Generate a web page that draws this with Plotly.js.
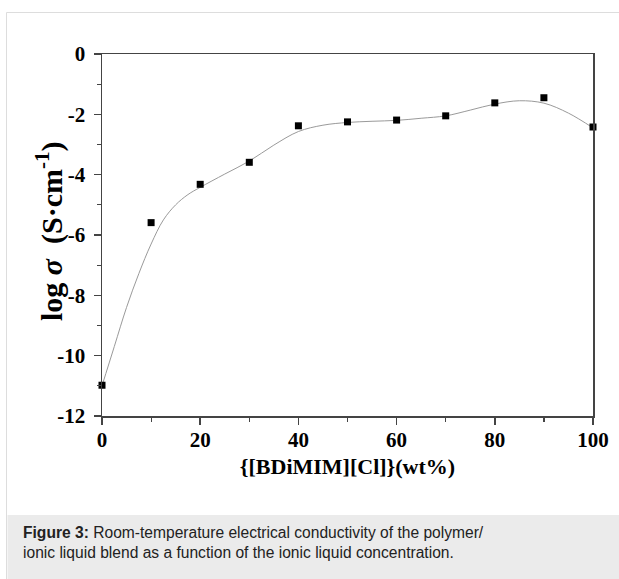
<!DOCTYPE html>
<html>
<head>
<meta charset="utf-8">
<script src="https://cdn.plot.ly/plotly-3.0.1.min.js"></script>
<style>
  html, body { margin: 0; padding: 0; background: #ffffff; }
  #chart { width: 619px; height: 579px; }
</style>
</head>
<body>
<div id="chart"></div>
<script>
// Measured data (ionic liquid wt% vs log conductivity)
const ilContent = [0, 10, 20, 30, 40, 50, 60, 70, 80, 90, 100];
const logSigma = [-10.98, -5.59, -4.32, -3.59, -2.38, -2.25, -2.19, -2.05, -1.62, -1.45, -2.42];

// Smooth guide curve
const curveX = [0, 2.5, 5, 7.5, 10, 12.5, 15, 17.5, 20, 25, 30, 35, 40, 45, 50, 55, 60, 65, 70, 75, 80, 85, 90, 95, 100];
const curveY = [-11.0, -9.7, -8.4, -7.28, -6.3, -5.5, -5.0, -4.66, -4.42, -3.98, -3.55, -3.02, -2.57, -2.36, -2.27, -2.23, -2.2, -2.13, -2.05, -1.86, -1.66, -1.55, -1.63, -1.96, -2.45];

// Tick labels
const xTickVals = [0, 20, 40, 60, 80, 100];
const xTickText = ['0', '20', '40', '60', '80', '100'];
const yTickVals = [0, -2, -4, -6, -8, -10, -12];
const yTickText = ['0', '-2', '-4', '-6', '-8', '-10', '-12'];

const xTitle = '{[BDiMIM][Cl]}(wt%)';
const yTitle = 'log <i>σ</i>  (S·cm<sup>-1</sup>)';
const caption = '<b>Figure 3:</b> Room-temperature electrical conductivity of the polymer/<br>ionic liquid blend as a function of the ionic liquid concentration.';

// pixel helpers for placing decorations outside the plot area
const M = { l: 102, r: 26, t: 54, b: 163 };
const W = 619, H = 579;
const pw = W - M.l - M.r, ph = H - M.t - M.b;
const px = (x) => (x - M.l) / pw;
const py = (y) => (H - M.b - y) / ph;

const serifBold = { family: 'Liberation Serif, Times New Roman, serif', weight: 'bold', color: '#000000' };

const traces = [
  {
    x: curveX, y: curveY, type: 'scatter', mode: 'lines',
    line: { color: '#9a9a9a', width: 1, shape: 'spline', smoothing: 1 },
    hoverinfo: 'skip', showlegend: false, cliponaxis: false
  },
  {
    x: ilContent, y: logSigma, type: 'scatter', mode: 'markers',
    marker: { symbol: 'square', size: 7, color: '#000000' },
    showlegend: false, cliponaxis: false
  }
];

const axisCommon = {
  showgrid: false, zeroline: false,
  showline: true, linecolor: '#444444', linewidth: 1.5, mirror: true,
  ticks: 'outside', ticklen: 7, tickwidth: 1.5, tickcolor: '#444444',
  tickmode: 'array',
  tickfont: Object.assign({ size: 21 }, serifBold)
};

const layout = {
  width: W, height: H,
  margin: { l: M.l, r: M.r, t: M.t, b: M.b, pad: 0 },
  paper_bgcolor: '#ffffff', plot_bgcolor: '#ffffff',
  showlegend: false,
  xaxis: Object.assign({}, axisCommon, {
    range: [0, 100],
    tickvals: xTickVals, ticktext: xTickText,
    ticklabelstandoff: -3,
    minor: { tickmode: 'linear', tick0: 0, dtick: 10, ticks: 'outside', ticklen: 4, tickwidth: 1.2, tickcolor: '#444444' },
    title: { text: xTitle, font: Object.assign({ size: 22 }, serifBold), standoff: 8 },
    automargin: false
  }),
  yaxis: Object.assign({}, axisCommon, {
    range: [-12, 0],
    tickvals: yTickVals, ticktext: yTickText,
    ticklabelstandoff: 4,
    minor: { tickmode: 'linear', tick0: 0, dtick: 1, ticks: 'outside', ticklen: 4, tickwidth: 1.2, tickcolor: '#444444' },
    automargin: false
  }),
  shapes: [
    { type: 'rect', xref: 'paper', yref: 'paper', layer: 'below',
      x0: px(6.5), x1: px(660), y0: py(12.5), y1: py(620),
      line: { color: '#dddddd', width: 1 }, fillcolor: 'rgba(0,0,0,0)' },
    { type: 'rect', xref: 'paper', yref: 'paper', layer: 'below',
      x0: px(7.5), x1: px(660), y0: py(515), y1: py(620),
      line: { width: 0 }, fillcolor: '#ebebeb' }
  ],
  annotations: [
    { text: yTitle, xref: 'paper', yref: 'paper', x: px(49), y: py(231),
      xanchor: 'center', yanchor: 'middle', textangle: -90, showarrow: false,
      font: Object.assign({ size: 30 }, serifBold) },
    { text: caption, xref: 'paper', yref: 'paper', x: px(21), y: py(522),
      xanchor: 'left', yanchor: 'top', align: 'left', showarrow: false,
      font: { family: 'Liberation Sans, Arial, sans-serif', size: 15.6, color: '#222222' } }
  ]
};

Plotly.newPlot('chart', traces, layout, { displayModeBar: false, staticPlot: true });
</script>
</body>
</html>
